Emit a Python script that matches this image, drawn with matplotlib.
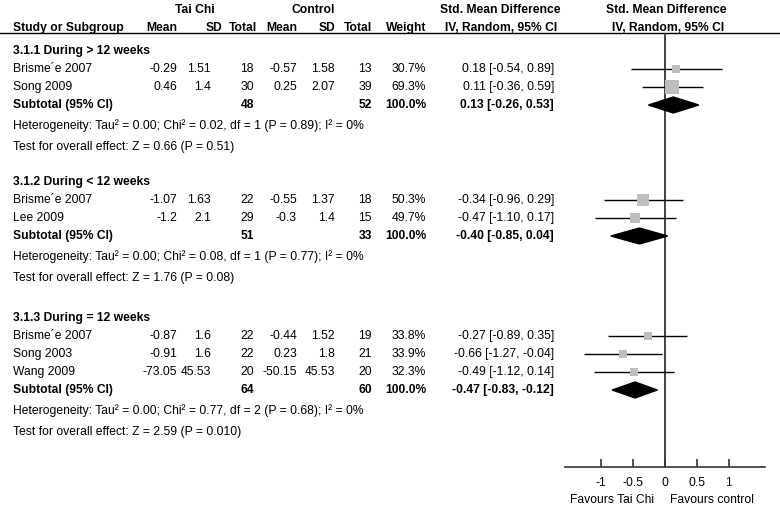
import matplotlib
matplotlib.use("Agg")
import matplotlib.pyplot as plt
from matplotlib.patches import Polygon

plt.rcParams["font.family"] = ["Liberation Sans", "DejaVu Sans"]
plt.rcParams["font.size"] = 8.7

# data
groups = ["3.1.1 During > 12 weeks", "3.1.2 During < 12 weeks", "3.1.3 During = 12 weeks"]
studies = [["Brisme\u00b4e 2007", "Song 2009"],
           ["Brisme\u00b4e 2007", "Lee 2009"],
           ["Brisme\u00b4e 2007", "Song 2003", "Wang 2009"]]
tc_mean = [[-0.29, 0.46], [-1.07, -1.2], [-0.87, -0.91, -73.05]]
tc_sd = [[1.51, 1.4], [1.63, 2.1], [1.6, 1.6, 45.53]]
tc_n = [[18, 30], [22, 29], [22, 22, 20]]
c_mean = [[-0.57, 0.25], [-0.55, -0.3], [-0.44, 0.23, -50.15]]
c_sd = [[1.58, 2.07], [1.37, 1.4], [1.52, 1.8, 45.53]]
c_n = [[13, 39], [18, 15], [19, 21, 20]]
weight = [[30.7, 69.3], [50.3, 49.7], [33.8, 33.9, 32.3]]
smd = [[0.18, 0.11], [-0.34, -0.47], [-0.27, -0.66, -0.49]]
ci_lo = [[-0.54, -0.36], [-0.96, -1.10], [-0.89, -1.27, -1.12]]
ci_hi = [[0.89, 0.59], [0.29, 0.17], [0.35, -0.04, 0.14]]

sub_tc_n = [48, 51, 64]
sub_c_n = [52, 33, 60]
sub_smd = [0.13, -0.40, -0.47]
sub_lo = [-0.26, -0.85, -0.83]
sub_hi = [0.53, 0.04, -0.12]

tau2 = [0.00, 0.00, 0.00]
chi2 = [0.02, 0.08, 0.77]
df = [1, 1, 2]
p_het = [0.89, 0.77, 0.68]
i2 = [0, 0, 0]
z_val = [0.66, 1.76, 2.59]
p_z = ["0.51", "0.08", "0.010"]

xticks = [-1, -0.5, 0, 0.5, 1]
xtick_labels = ["-1", "-0.5", "0", "0.5", "1"]

W, H = 780, 508
fig = plt.figure(figsize=(W / 100, H / 100), dpi=100)
ax = fig.add_axes([0, 0, 1, 1])
ax.set_xlim(0, W)
ax.set_ylim(H, 0)
ax.axis("off")

axis_y = 467
fx = fig.add_axes([565 / W, (H - axis_y) / H, (765 - 565) / W, axis_y / H])
fx.set_xlim(-1.57, 1.57)
fx.set_ylim(axis_y, 0)
fx.patch.set_alpha(0)
for s in ["left", "right", "top"]:
    fx.spines[s].set_visible(False)
fx.spines["bottom"].set_linewidth(1.2)
fx.spines["bottom"].set_color("#333333")
fx.set_yticks([])
fx.set_xticks(xticks)
fx.set_xticklabels(xtick_labels)
fx.tick_params(axis="x", direction="in", length=6, width=1.2, pad=7,
               labelsize=8.7, color="#333333")

# column positions (x) and alignment
col_x = {"tc_mean": 177, "tc_sd": 211, "tc_n": 254, "c_mean": 297,
         "c_sd": 335, "c_n": 372, "w": 426, "ci": 554}
left_x = 13
bold = dict(va="center", fontweight="bold")

# headers
ax.text(195, 10, "Tai Chi", ha="center", **bold)
ax.text(313, 10, "Control", ha="center", **bold)
ax.text(500, 10, "Std. Mean Difference", ha="center", **bold)
ax.text(666, 10, "Std. Mean Difference", ha="center", **bold)
hy = 28
ax.text(left_x, hy, "Study or Subgroup", ha="left", **bold)
ax.text(177, hy, "Mean", ha="right", **bold)
ax.text(222, hy, "SD", ha="right", **bold)
ax.text(257, hy, "Total", ha="right", **bold)
ax.text(297, hy, "Mean", ha="right", **bold)
ax.text(335, hy, "SD", ha="right", **bold)
ax.text(372, hy, "Total", ha="right", **bold)
ax.text(426, hy, "Weight", ha="right", **bold)
ax.text(501, hy, "IV, Random, 95% CI", ha="center", **bold)
ax.text(668, hy, "IV, Random, 95% CI", ha="center", **bold)
ax.axhline(33, color="black", lw=1)

fx.vlines(0, 33, axis_y, color="#333333", lw=1.3)

group_top = [51, 182, 318]
for g in range(len(groups)):
    y = group_top[g]
    ax.text(left_x, y, groups[g], ha="left", **bold)
    for i, name in enumerate(studies[g]):
        y += 18
        vals = [("tc_mean", f"{tc_mean[g][i]:g}"), ("tc_sd", f"{tc_sd[g][i]:g}"),
                ("tc_n", str(tc_n[g][i])), ("c_mean", f"{c_mean[g][i]:g}"),
                ("c_sd", f"{c_sd[g][i]:g}"), ("c_n", str(c_n[g][i])),
                ("w", f"{weight[g][i]:.1f}%"),
                ("ci", f"{smd[g][i]:.2f} [{ci_lo[g][i]:.2f}, {ci_hi[g][i]:.2f}]")]
        ax.text(left_x, y, name, ha="left", va="center")
        for key, txt in vals:
            ax.text(col_x[key], y, txt, ha="right", va="center")
        fx.hlines(y, ci_lo[g][i], ci_hi[g][i], color="black", lw=1)
        side = (4 + 0.14 * weight[g][i]) * 0.72
        fx.scatter(smd[g][i], y, marker="s", s=side ** 2,
                   color="#bdbdbd", zorder=3, linewidths=0)
    y += 18
    ax.text(left_x, y, "Subtotal (95% CI)", ha="left", **bold)
    ax.text(col_x["tc_n"], y, str(sub_tc_n[g]), ha="right", **bold)
    ax.text(col_x["c_n"], y, str(sub_c_n[g]), ha="right", **bold)
    ax.text(col_x["w"], y, "100.0%", ha="right", **bold)
    ax.text(col_x["ci"], y, f"{sub_smd[g]:.2f} [{sub_lo[g]:.2f}, {sub_hi[g]:.2f}]",
            ha="right", **bold)
    fx.add_patch(Polygon([(sub_lo[g], y), (sub_smd[g], y - 8), (sub_hi[g], y),
                          (sub_smd[g], y + 8)], closed=True, color="black", zorder=3))
    y += 21
    ax.text(left_x, y, f"Heterogeneity: Tau\u00b2 = {tau2[g]:.2f}; Chi\u00b2 = {chi2[g]:.2f}, "
            f"df = {df[g]} (P = {p_het[g]:.2f}); I\u00b2 = {i2[g]}%", ha="left", va="center")
    y += 21
    ax.text(left_x, y, f"Test for overall effect: Z = {z_val[g]:.2f} (P = {p_z[g]})",
            ha="left", va="center")

ax.text(654, 500, "Favours Tai Chi", ha="right", va="center")
ax.text(670, 500, "Favours control", ha="left", va="center")

fig.savefig("out.png", dpi=100)
